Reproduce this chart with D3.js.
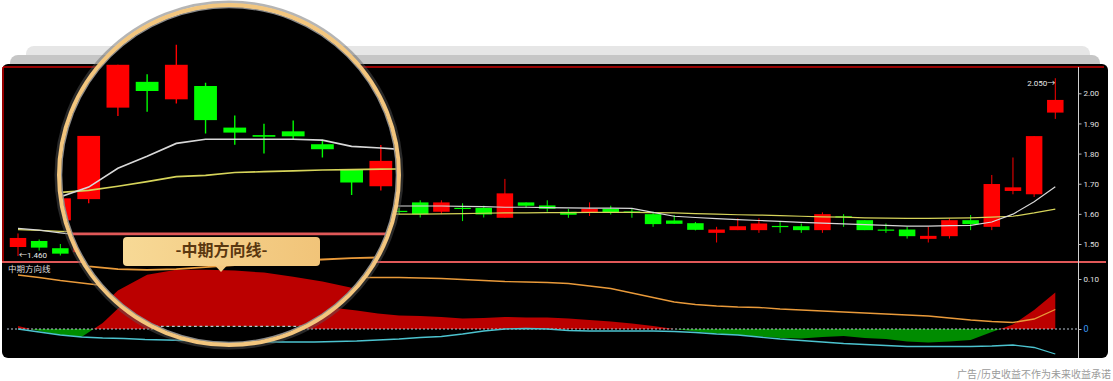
<!DOCTYPE html>
<html><head><meta charset="utf-8">
<script src="https://cdn.jsdelivr.net/npm/d3@7"></script>
<style>
html,body{margin:0;padding:0;background:#fff;}
svg{display:block;font-family:Roboto,"Noto Sans","Noto Sans CJK SC",sans-serif;}
</style></head><body>
<svg id="c" width="1113" height="381"></svg>
<script>
// ---------------- data ----------------
const opens  = [1.490,1.510,1.486,1.473,1.524,1.744,1.806,1.764,1.796,1.696,1.678,1.687,1.656,1.595,1.555,1.620,1.600,1.625,1.610,1.638,1.607,1.620,1.620,1.587,1.638,1.628,1.607,1.606,1.617,1.608,1.599,1.578,1.569,1.537,1.546,1.546,1.560,1.559,1.546,1.592,1.579,1.548,1.548,1.517,1.526,1.579,1.557,1.676,1.665,1.936];
const highs  = [1.535,1.515,1.500,1.530,1.676,1.847,1.824,1.895,1.804,1.725,1.705,1.713,1.667,1.595,1.654,1.630,1.635,1.630,1.620,1.645,1.645,1.635,1.627,1.716,1.638,1.645,1.616,1.638,1.627,1.617,1.607,1.596,1.573,1.557,1.585,1.585,1.573,1.568,1.605,1.599,1.579,1.568,1.557,1.557,1.585,1.596,1.729,1.787,1.858,2.050];
const lows   = [1.460,1.478,1.462,1.470,1.514,1.724,1.734,1.754,1.682,1.655,1.634,1.666,1.624,1.534,1.545,1.590,1.595,1.600,1.598,1.588,1.599,1.576,1.588,1.587,1.620,1.607,1.587,1.593,1.598,1.587,1.557,1.567,1.545,1.505,1.546,1.537,1.537,1.537,1.537,1.557,1.546,1.537,1.518,1.505,1.518,1.546,1.546,1.665,1.656,1.915];
const closes = [1.520,1.488,1.468,1.526,1.676,1.847,1.784,1.847,1.714,1.684,1.675,1.675,1.644,1.564,1.616,1.600,1.625,1.612,1.606,1.599,1.638,1.616,1.598,1.668,1.627,1.617,1.597,1.617,1.606,1.606,1.566,1.567,1.547,1.548,1.559,1.568,1.558,1.546,1.599,1.589,1.546,1.546,1.526,1.527,1.579,1.566,1.699,1.688,1.858,1.978];
const maWhite  = [1.552,1.546,1.537,1.529,1.553,1.598,1.627,1.658,1.668,1.668,1.668,1.668,1.666,1.651,1.647,1.642,1.636,1.630,1.626,1.626,1.626,1.625,1.624,1.622,1.622,1.621,1.620,1.619,1.619,1.618,1.605,1.592,1.588,1.584,1.581,1.578,1.575,1.572,1.569,1.567,1.564,1.562,1.559,1.559,1.561,1.562,1.573,1.599,1.640,1.690];
const maYellow = [1.548,1.545,1.542,1.540,1.545,1.555,1.566,1.578,1.581,1.588,1.590,1.592,1.594,1.595,1.596,1.597,1.598,1.599,1.599,1.599,1.600,1.601,1.602,1.603,1.603,1.604,1.604,1.605,1.605,1.605,1.604,1.603,1.601,1.599,1.597,1.596,1.594,1.592,1.590,1.589,1.587,1.586,1.585,1.585,1.586,1.587,1.589,1.592,1.603,1.616];
const hist = [0.006,-0.004,-0.012,-0.016,0.012,0.052,0.075,0.082,0.082,0.081,0.078,0.072,0.065,0.056,0.048,0.042,0.037,0.031,0.027,0.026,0.024,0.021,0.022,0.024,0.023,0.023,0.021,0.018,0.015,0.011,0.006,0.000,-0.005,-0.009,-0.012,-0.015,-0.018,-0.019,-0.016,-0.014,-0.018,-0.020,-0.025,-0.027,-0.025,-0.022,-0.006,0.009,0.038,0.073];
const lineOrange = [0.108,0.103,0.097,0.092,0.087,0.083,0.082,0.083,0.086,0.089,0.092,0.095,0.097,0.099,0.100,0.102,0.103,0.103,0.103,0.102,0.101,0.099,0.097,0.095,0.094,0.093,0.091,0.086,0.081,0.072,0.063,0.054,0.049,0.046,0.044,0.043,0.040,0.038,0.036,0.034,0.032,0.030,0.028,0.026,0.022,0.018,0.015,0.013,0.020,0.039];
const lineCyan = [0.000,-0.006,-0.012,-0.016,-0.018,-0.019,-0.021,-0.022,-0.023,-0.024,-0.025,-0.025,-0.026,-0.026,-0.026,-0.025,-0.024,-0.022,-0.020,-0.017,-0.015,-0.010,-0.004,0.000,0.001,0.000,-0.003,-0.004,-0.004,-0.004,-0.004,-0.005,-0.007,-0.010,-0.012,-0.016,-0.020,-0.023,-0.026,-0.029,-0.031,-0.033,-0.035,-0.035,-0.035,-0.035,-0.034,-0.032,-0.037,-0.050];
const priceTicks = [1.5,1.6,1.7,1.8,1.9,2.0];
const indTicks = [0, 0.1];
const indicatorName = "中期方向线";
const calloutText = "-中期方向线-";
const disclaimer = "广告/历史收益不作为未来收益承诺";
const maxLabel = "2.050→";
const minLabel = "←1.460";

// ---------------- scales ----------------
const svg = d3.select("#c");
const idx = d3.range(closes.length);
const x = d3.scalePoint().domain(idx).range([18, 1055.3]);
const yP = d3.scaleLinear().domain([1.5, 2.0]).range([244, 93.3]);
const yI = d3.scaleLinear().domain([0, 0.1]).range([329, 279]);
const CW = 16.5;

// ---------------- background ----------------
svg.append("rect").attr("x",26).attr("y",46).attr("width",1064).attr("height",24).attr("rx",8).attr("fill","#e6e6e6");
svg.append("rect").attr("x",10).attr("y",55).attr("width",1090).attr("height",20).attr("rx",8).attr("fill","#c6c6c6");
svg.append("rect").attr("x",2).attr("y",64).attr("width",1106).attr("height",294).attr("rx",6).attr("fill","#000");

const defs = svg.append("defs");
defs.append("clipPath").attr("id","clipUp").append("rect").attr("x",-1000).attr("y",-1000).attr("width",4000).attr("height",1000+yI(0));
defs.append("clipPath").attr("id","clipDn").append("rect").attr("x",-1000).attr("y",yI(0)).attr("width",4000).attr("height",2000);
defs.append("clipPath").attr("id","magClip").append("circle").attr("cx",229).attr("cy",175).attr("r",168);
const gr = defs.append("linearGradient").attr("id","gold").attr("x1","0").attr("x2","1").attr("y1","0").attr("y2","0");
gr.append("stop").attr("offset","0%").attr("stop-color","#f7d996");
gr.append("stop").attr("offset","100%").attr("stop-color","#f1c479");

function drawContent(g){
  // frame lines
  g.append("line").attr("x1",3).attr("x2",1104).attr("y1",67).attr("y2",67).attr("stroke","#c80000").attr("stroke-width",1.5);
  g.append("line").attr("x1",3).attr("x2",3).attr("y1",67).attr("y2",262).attr("stroke","#c80000").attr("stroke-width",1.5);
  g.append("line").attr("x1",2).attr("x2",1106).attr("y1",262).attr("y2",262).attr("stroke","#e05858").attr("stroke-width",2);

  // indicator area
  const area = d3.area().x((d,i)=>x(i)).y0(yI(0)).y1(d=>yI(d));
  g.append("path").datum(hist).attr("d",area).attr("fill","#bb0000").attr("clip-path","url(#clipUp)");
  g.append("path").datum(hist).attr("d",area).attr("fill","#008c00").attr("clip-path","url(#clipDn)");
  g.append("line").attr("x1",7).attr("x2",1078).attr("y1",yI(0)).attr("y2",yI(0))
    .attr("stroke","#b8c4d0").attr("stroke-width",1).attr("stroke-dasharray","2,2");
  const lineI = d3.line().x((d,i)=>x(i)).y(d=>yI(d));
  g.append("path").datum(lineOrange).attr("d",lineI).attr("fill","none").attr("stroke","#e99a3a").attr("stroke-width",1.3);
  g.append("path").datum(lineCyan).attr("d",lineI).attr("fill","none").attr("stroke","#4cc3cf").attr("stroke-width",1.3);

  // candles
  const cg = g.append("g");
  idx.forEach(i=>{
    const up = closes[i] >= opens[i];
    const col = up ? "#ff0000" : "#00ff00";
    cg.append("line").attr("x1",x(i)).attr("x2",x(i)).attr("y1",yP(highs[i])).attr("y2",yP(lows[i]))
      .attr("stroke",col).attr("stroke-width",1);
    const t = yP(Math.max(opens[i],closes[i])), b = yP(Math.min(opens[i],closes[i]));
    cg.append("rect").attr("x",x(i)-CW/2).attr("y",t).attr("width",CW).attr("height",Math.max(1.2,b-t)).attr("fill",col);
  });
  const lineP = d3.line().x((d,i)=>x(i)).y(d=>yP(d));
  g.append("path").datum(maYellow).attr("d",lineP).attr("fill","none").attr("stroke","#d6d45a").attr("stroke-width",1.2);
  g.append("path").datum(maWhite).attr("d",lineP).attr("fill","none").attr("stroke","#d8d8d8").attr("stroke-width",1.2);
}

const main = svg.append("g");
drawContent(main);

// axes
svg.append("line").attr("x1",1078.5).attr("x2",1078.5).attr("y1",67).attr("y2",358).attr("stroke","#d0d0d0").attr("stroke-width",1);
const axP = svg.append("g").attr("transform","translate(1078.5,0)")
  .call(d3.axisRight(yP).tickValues(priceTicks).tickFormat(d3.format(".2f")).tickSize(3).tickPadding(2));
const axI = svg.append("g").attr("transform","translate(1078.5,0)")
  .call(d3.axisRight(yI).tickValues(indTicks).tickFormat(d=>d===0?"0":d3.format(".2f")(d)).tickSize(3).tickPadding(2));
[axP,axI].forEach(a=>{
  a.select(".domain").remove();
  a.selectAll(".tick line").attr("stroke","#bbb");
  a.selectAll(".tick text").attr("fill","#e0e0e0").attr("font-size","8px").attr("font-family","Roboto,sans-serif");
});
axI.selectAll(".tick").filter(d=>d===0).select("text").attr("fill","#3d9cf5").attr("font-size","9px");

// extreme labels
svg.append("text").attr("x",x(49)).attr("y",yP(2.05)+6).attr("text-anchor","end").attr("dominant-baseline","middle")
  .attr("fill","#e8e8e8").attr("font-size","8px").text(maxLabel);
svg.append("text").attr("x",x(0)+1).attr("y",yP(1.46)).attr("text-anchor","start").attr("dominant-baseline","middle")
  .attr("fill","#e8e8e8").attr("font-size","8px").text(minLabel);

// indicator name
svg.append("text").attr("x",8).attr("y",270).attr("dominant-baseline","middle").attr("fill","#dddddd")
  .attr("font-size","8.5px").attr("font-family","'Noto Sans CJK SC',sans-serif").text(indicatorName);

// disclaimer
svg.append("text").attr("x",1111).attr("y",375).attr("text-anchor","end").attr("dominant-baseline","middle")
  .attr("fill","#9a9a9a").attr("font-size","10px").attr("font-family","'Noto Sans CJK SC',sans-serif").text(disclaimer);

// magnifier
svg.append("circle").attr("cx",229).attr("cy",175).attr("r",173).attr("fill","none").attr("stroke","rgba(90,90,90,0.45)").attr("stroke-width",3);
const mag = svg.append("g").attr("clip-path","url(#magClip)");
mag.append("circle").attr("cx",229).attr("cy",175).attr("r",170).attr("fill","#000");
const inner = mag.append("g").attr("transform","translate(-53,-127.6) scale(1.38)");
drawContent(inner);

// callout
const cb = svg.append("g");
cb.append("rect").attr("x",123).attr("y",237).attr("width",197).attr("height",29).attr("rx",4).attr("fill","url(#gold)");
cb.append("path").attr("d","M215,265.5 L227,265.5 L221,272 Z").attr("fill","#f3ca82");
cb.append("text").attr("x",221.5).attr("y",252).attr("text-anchor","middle").attr("dominant-baseline","middle")
  .attr("fill","#5a3810").attr("font-size","16px").attr("font-weight","bold")
  .attr("font-family","'Noto Sans CJK SC',sans-serif").text(calloutText);

// ring
svg.append("circle").attr("cx",229).attr("cy",175).attr("r",167.5).attr("fill","none").attr("stroke","#8a8a8a").attr("stroke-width",1.5);
svg.append("circle").attr("cx",229).attr("cy",175).attr("r",170).attr("fill","none").attr("stroke","#f3c67e").attr("stroke-width",4);
</script>
</body></html>
